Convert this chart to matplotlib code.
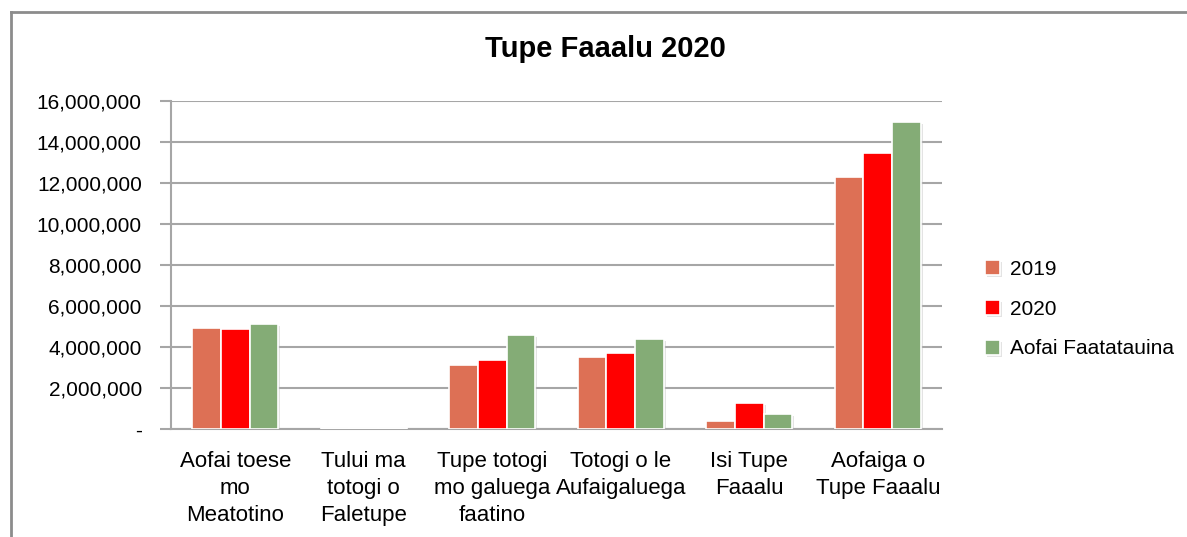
import matplotlib
matplotlib.use("Agg")
import matplotlib.pyplot as plt
import matplotlib.patheffects as pe
from matplotlib.ticker import FuncFormatter
import numpy as np

# data
categories = ["Aofai toese\nmo\nMeatotino", "Tului ma\ntotogi o\nFaletupe",
              "Tupe totogi\nmo galuega\nfaatino", "Totogi o le\nAufaigaluega",
              "Isi Tupe\nFaaalu", "Aofaiga o\nTupe Faaalu"]
series_names = ["2019", "2020", "Aofai Faatatauina"]
vals_2019 = [4930000, 60000, 3120000, 3530000, 390000, 12280000]
vals_2020 = [4860000, 30000, 3350000, 3690000, 1250000, 13450000]
vals_budget = [5140000, 30000, 4580000, 4390000, 750000, 14990000]
y_ticks = [0, 2000000, 4000000, 6000000, 8000000, 10000000, 12000000, 14000000, 16000000]

colors = ["#DD7055", "#FF0000", "#84AC76"]
grid_col = "#A6A6A6"

plt.rcParams['font.family'] = ['Liberation Sans', 'DejaVu Sans']

fig = plt.figure(figsize=(11.87, 5.37), dpi=100)
ax = fig.add_axes([171 / 1187, 1 - 429 / 537, 771 / 1187, 328 / 537])

x = np.arange(len(categories))
w = 0.222
shadow = [pe.SimplePatchShadow(offset=(1.5, -1.5), shadow_rgbFace="#BBBBBB", alpha=0.4), pe.Normal()]
for i, (name, vals) in enumerate(zip(series_names, [vals_2019, vals_2020, vals_budget])):
    bars = ax.bar(x + (i - 1) * w, vals, width=w, color=colors[i], edgecolor="white",
                  linewidth=1.2, label=name, zorder=3)
    for b in bars:
        b.set_path_effects(shadow)

ax.set_xlim(-0.5, len(categories) - 0.5)
ax.set_ylim(0, 16000000)
ax.set_yticks(y_ticks)
ax.yaxis.set_major_formatter(FuncFormatter(lambda v, p: "-" if v == 0 else f"{int(v):,}"))
ax.grid(axis="y", color=grid_col, linewidth=1.5, zorder=0)
ax.set_axisbelow(True)

ax.set_xticks(x)
ax.set_xticklabels(categories, fontsize=16, linespacing=1.36, va="top")
ax.tick_params(axis="x", length=0, pad=16)
ax.tick_params(axis="y", length=8, width=1.5, color=grid_col, labelsize=15, pad=13)

for side in ["top", "right"]:
    ax.spines[side].set_visible(False)
for side in ["left", "bottom"]:
    ax.spines[side].set_color(grid_col)
    ax.spines[side].set_linewidth(1.5)

# title
fig.text(605 / 1187, 1 - 49 / 537, "Tupe Faaalu 2020", fontsize=21, fontweight="bold",
         ha="center", va="center")

# legend
leg = fig.legend(loc="upper left", bbox_to_anchor=(966 / 1187, 1 - 241 / 537), frameon=False,
                 fontsize=15, handlelength=0.75, handleheight=0.75, handletextpad=0.45,
                 labelspacing=1.0)

# outer frame
fig.add_artist(plt.Line2D([11 / 1187, 11 / 1187], [0, 1 - 12 / 537], color="#8C8C8C",
                          linewidth=2, transform=fig.transFigure))
fig.add_artist(plt.Line2D([11 / 1187, 1], [1 - 12 / 537, 1 - 12 / 537], color="#8C8C8C",
                          linewidth=2, transform=fig.transFigure))

plt.savefig("out.png", dpi=100)
plt.close("all")
